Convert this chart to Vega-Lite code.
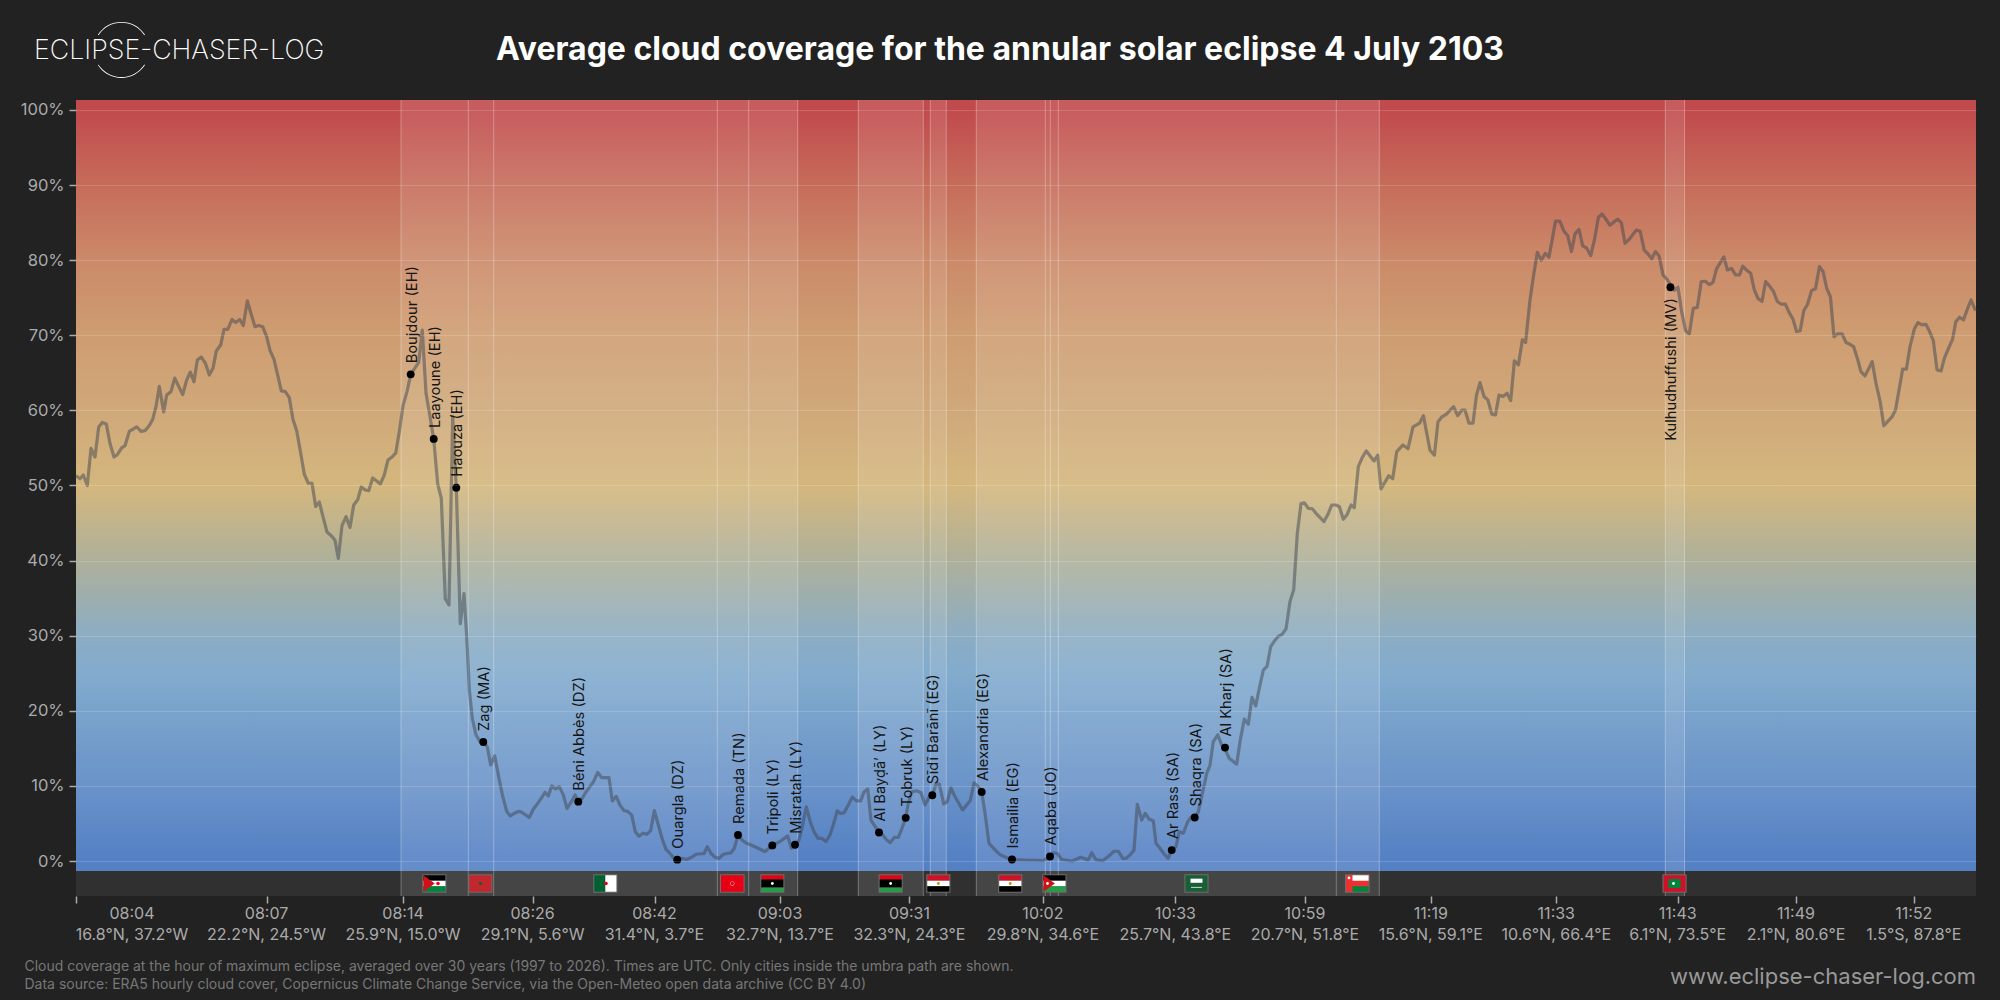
{
  "$schema": "https://vega.github.io/schema/vega-lite/v6.json",
  "description": "Average cloud coverage along the path of the annular solar eclipse of 4 July 2103",
  "background": "#222222",
  "autosize": {"type": "none"},
  "padding": {"left": 76, "top": 100, "right": 24, "bottom": 104},
  "width": 1900,
  "height": 796,
  "config": {"view": {"stroke": null}, "font": "Inter"},
  "datasets": {
    "cover": [
      {"pos":0,"cover":51.3},{"pos":4,"cover":50.9},{"pos":7.3,"cover":51.4},{"pos":11.3,"cover":50.0},{"pos":15,"cover":54.95},{"pos":19,"cover":53.8},{"pos":22.7,"cover":57.8},{"pos":26.3,"cover":58.4},{"pos":30.3,"cover":58.2},{"pos":34,"cover":55.6},{"pos":38,"cover":53.8},{"pos":41.3,"cover":54.1},{"pos":45.7,"cover":55.0},{"pos":49,"cover":55.3},{"pos":53.3,"cover":57.2},{"pos":57,"cover":57.5},{"pos":60.7,"cover":57.8},{"pos":65,"cover":57.2},{"pos":69,"cover":57.3},{"pos":73.3,"cover":58.0},{"pos":76.7,"cover":58.8},{"pos":80,"cover":60.5},{"pos":83.3,"cover":63.2},{"pos":87.7,"cover":59.8},{"pos":90.7,"cover":62.05},{"pos":95,"cover":62.5},{"pos":98.7,"cover":64.3},{"pos":102.7,"cover":63.2},{"pos":106.7,"cover":62.1},{"pos":110.7,"cover":64.05},{"pos":114.3,"cover":65.1},{"pos":118,"cover":63.8},{"pos":121.3,"cover":66.7},{"pos":125.3,"cover":67.1},{"pos":129.3,"cover":66.3},{"pos":133.3,"cover":64.7},{"pos":137,"cover":65.6},{"pos":140.3,"cover":67.9},{"pos":144.7,"cover":68.7},{"pos":148,"cover":70.8},{"pos":151.7,"cover":70.8},{"pos":156,"cover":72.1},{"pos":159.7,"cover":71.7},{"pos":163.7,"cover":72.1},{"pos":167.3,"cover":71.3},{"pos":171.3,"cover":74.6},{"pos":175,"cover":72.9},{"pos":179,"cover":71.15},{"pos":183,"cover":71.3},{"pos":186.7,"cover":71.15},{"pos":190.7,"cover":69.8},{"pos":194,"cover":68.0},{"pos":198,"cover":66.8},{"pos":201.7,"cover":64.7},{"pos":205.3,"cover":62.6},{"pos":209.3,"cover":62.5},{"pos":213.3,"cover":61.7},{"pos":217,"cover":58.8},{"pos":220.7,"cover":57.3},{"pos":224.7,"cover":54.3},{"pos":228.3,"cover":51.5},{"pos":232.3,"cover":50.3},{"pos":236,"cover":50.3},{"pos":239.7,"cover":47.2},{"pos":243.3,"cover":47.8},{"pos":247.3,"cover":45.7},{"pos":251,"cover":43.8},{"pos":255.3,"cover":43.3},{"pos":259,"cover":42.7},{"pos":262.3,"cover":40.3},{"pos":266,"cover":44.65},{"pos":270,"cover":45.85},{"pos":274,"cover":44.4},{"pos":277.7,"cover":47.4},{"pos":281.7,"cover":48.1},{"pos":285.3,"cover":49.8},{"pos":289.3,"cover":49.4},{"pos":292.7,"cover":49.3},{"pos":296.7,"cover":51.0},{"pos":300.7,"cover":50.6},{"pos":304.3,"cover":50.2},{"pos":308.3,"cover":51.4},{"pos":312,"cover":53.4},{"pos":316,"cover":53.8},{"pos":319.7,"cover":54.3},{"pos":323.3,"cover":57.2},{"pos":327,"cover":60.6},{"pos":331,"cover":62.5},{"pos":334.7,"cover":64.8},{"pos":338.7,"cover":65.6},{"pos":342.7,"cover":66.4},{"pos":346.3,"cover":70.7},{"pos":350,"cover":62.3},{"pos":354,"cover":59.2},{"pos":357.7,"cover":56.2},{"pos":361.7,"cover":50.2},{"pos":365.3,"cover":48.3},{"pos":369.3,"cover":34.9},{"pos":373,"cover":34.1},{"pos":376.7,"cover":59.2},{"pos":380.3,"cover":49.7},{"pos":384.3,"cover":31.6},{"pos":388,"cover":35.6},{"pos":390.7,"cover":29.9},{"pos":393.3,"cover":22.8},{"pos":396.3,"cover":19.0},{"pos":400,"cover":16.8},{"pos":404,"cover":15.9},{"pos":407.3,"cover":15.85},{"pos":411.3,"cover":15.2},{"pos":414.7,"cover":12.8},{"pos":418.7,"cover":14.0},{"pos":422.7,"cover":11.2},{"pos":426.7,"cover":8.6},{"pos":430.7,"cover":6.6},{"pos":434.3,"cover":6.0},{"pos":438.3,"cover":6.35},{"pos":442.3,"cover":6.6},{"pos":445.7,"cover":6.5},{"pos":450,"cover":6.1},{"pos":453.3,"cover":5.8},{"pos":457.3,"cover":6.9},{"pos":461.3,"cover":7.6},{"pos":465.3,"cover":8.35},{"pos":469,"cover":9.15},{"pos":472.3,"cover":8.65},{"pos":475.7,"cover":10.0},{"pos":479.7,"cover":9.6},{"pos":483.3,"cover":9.9},{"pos":487.3,"cover":8.8},{"pos":491,"cover":7.0},{"pos":495,"cover":7.8},{"pos":499,"cover":8.8},{"pos":502.3,"cover":7.9},{"pos":506.3,"cover":8.35},{"pos":510,"cover":9.2},{"pos":514,"cover":9.9},{"pos":517.7,"cover":10.6},{"pos":521.7,"cover":11.8},{"pos":525.7,"cover":11.1},{"pos":529.3,"cover":11.1},{"pos":533,"cover":11.1},{"pos":536.3,"cover":8.0},{"pos":540.3,"cover":8.6},{"pos":544,"cover":7.45},{"pos":548,"cover":6.7},{"pos":551.7,"cover":6.6},{"pos":555.7,"cover":6.1},{"pos":559.3,"cover":3.9},{"pos":563,"cover":3.3},{"pos":567,"cover":3.7},{"pos":570.7,"cover":3.55},{"pos":574.7,"cover":4.05},{"pos":578.3,"cover":6.7},{"pos":582.3,"cover":4.8},{"pos":586.3,"cover":2.9},{"pos":590,"cover":1.55},{"pos":594,"cover":1.0},{"pos":598,"cover":0.35},{"pos":601.3,"cover":0.2},{"pos":605.7,"cover":0.35},{"pos":610.7,"cover":0.2},{"pos":615.7,"cover":0.5},{"pos":620,"cover":0.9},{"pos":628,"cover":1.0},{"pos":631.3,"cover":1.9},{"pos":635,"cover":1.0},{"pos":639,"cover":0.5},{"pos":643,"cover":0.35},{"pos":647.3,"cover":0.9},{"pos":655,"cover":1.1},{"pos":658.3,"cover":1.7},{"pos":662,"cover":3.45},{"pos":666,"cover":2.8},{"pos":670.7,"cover":2.35},{"pos":679,"cover":1.9},{"pos":689,"cover":1.25},{"pos":696.3,"cover":2.1},{"pos":704,"cover":2.6},{"pos":711.7,"cover":3.35},{"pos":715.3,"cover":1.7},{"pos":719,"cover":2.1},{"pos":723,"cover":2.8},{"pos":726.3,"cover":4.6},{"pos":730.3,"cover":7.2},{"pos":734.3,"cover":5.2},{"pos":738,"cover":3.9},{"pos":742,"cover":3.0},{"pos":746,"cover":3.0},{"pos":750,"cover":2.6},{"pos":754,"cover":3.45},{"pos":757.3,"cover":4.8},{"pos":761.3,"cover":6.7},{"pos":764,"cover":6.35},{"pos":768,"cover":6.4},{"pos":772.3,"cover":7.45},{"pos":776.3,"cover":8.5},{"pos":780.7,"cover":8.0},{"pos":784.7,"cover":8.0},{"pos":788,"cover":9.2},{"pos":791.7,"cover":9.6},{"pos":795,"cover":5.45},{"pos":799,"cover":4.6},{"pos":803,"cover":3.8},{"pos":806.7,"cover":3.45},{"pos":810.7,"cover":2.8},{"pos":814.3,"cover":2.45},{"pos":818.3,"cover":3.15},{"pos":822.3,"cover":3.15},{"pos":826,"cover":4.35},{"pos":829.7,"cover":5.75},{"pos":832.3,"cover":7.7},{"pos":835.7,"cover":9.2},{"pos":840.7,"cover":9.35},{"pos":845,"cover":9.1},{"pos":849,"cover":7.45},{"pos":853,"cover":8.5},{"pos":856.3,"cover":8.75},{"pos":860,"cover":10.25},{"pos":863.3,"cover":10.25},{"pos":867.7,"cover":7.6},{"pos":871.3,"cover":7.9},{"pos":875,"cover":9.75},{"pos":879,"cover":8.55},{"pos":886.7,"cover":6.8},{"pos":894.3,"cover":8.05},{"pos":898,"cover":10.4},{"pos":902.3,"cover":9.9},{"pos":905.7,"cover":9.2},{"pos":909,"cover":6.35},{"pos":913,"cover":2.35},{"pos":920.7,"cover":1.25},{"pos":924.7,"cover":0.8},{"pos":932.3,"cover":0.35},{"pos":936,"cover":0.2},{"pos":944,"cover":0.15},{"pos":951.3,"cover":0.1},{"pos":959.7,"cover":0.1},{"pos":967.3,"cover":0.05},{"pos":974,"cover":0.6},{"pos":977.3,"cover":1.1},{"pos":981.3,"cover":1.0},{"pos":985.7,"cover":0.2},{"pos":996.3,"cover":0},{"pos":1004.7,"cover":0.5},{"pos":1012.3,"cover":0.15},{"pos":1015.7,"cover":1.1},{"pos":1020,"cover":0.15},{"pos":1026.7,"cover":0.05},{"pos":1032.3,"cover":0.6},{"pos":1038,"cover":1.3},{"pos":1042.3,"cover":1.3},{"pos":1046.7,"cover":0.35},{"pos":1050,"cover":0.35},{"pos":1054,"cover":0.8},{"pos":1058,"cover":1.45},{"pos":1061.3,"cover":7.55},{"pos":1065.7,"cover":5.45},{"pos":1069.3,"cover":6.35},{"pos":1073.3,"cover":5.55},{"pos":1077.3,"cover":5.35},{"pos":1080,"cover":2.35},{"pos":1084,"cover":1.7},{"pos":1088,"cover":0.95},{"pos":1092.3,"cover":0.35},{"pos":1095.7,"cover":1.45},{"pos":1100,"cover":1.9},{"pos":1103.3,"cover":3.9},{"pos":1107.3,"cover":3.7},{"pos":1111.3,"cover":5.1},{"pos":1114.7,"cover":5.8},{"pos":1118.7,"cover":5.8},{"pos":1122.3,"cover":6.55},{"pos":1126.7,"cover":9.2},{"pos":1130.7,"cover":11.65},{"pos":1134,"cover":12.75},{"pos":1137.3,"cover":15.9},{"pos":1141.7,"cover":16.8},{"pos":1145.7,"cover":15.45},{"pos":1149.3,"cover":14.8},{"pos":1153.3,"cover":13.65},{"pos":1160.7,"cover":12.9},{"pos":1164,"cover":15.9},{"pos":1168.3,"cover":18.9},{"pos":1172.3,"cover":18.2},{"pos":1176,"cover":21.8},{"pos":1179.7,"cover":20.65},{"pos":1183.3,"cover":23.0},{"pos":1187.3,"cover":25.4},{"pos":1191,"cover":25.9},{"pos":1194.7,"cover":28.55},{"pos":1199,"cover":29.4},{"pos":1202.3,"cover":29.9},{"pos":1206.3,"cover":30.2},{"pos":1210,"cover":30.9},{"pos":1214,"cover":34.55},{"pos":1217.7,"cover":36.1},{"pos":1221.3,"cover":43.6},{"pos":1225,"cover":47.6},{"pos":1228.3,"cover":47.7},{"pos":1232.3,"cover":46.95},{"pos":1236.3,"cover":46.9},{"pos":1240,"cover":46.3},{"pos":1248,"cover":45.2},{"pos":1251.7,"cover":46.1},{"pos":1255.7,"cover":47.4},{"pos":1259.7,"cover":47.4},{"pos":1263.3,"cover":47.2},{"pos":1267.3,"cover":45.5},{"pos":1271,"cover":46.1},{"pos":1275,"cover":47.4},{"pos":1278.3,"cover":47.05},{"pos":1282.3,"cover":52.5},{"pos":1286.3,"cover":53.75},{"pos":1290.3,"cover":54.6},{"pos":1298,"cover":53.25},{"pos":1301.7,"cover":54.05},{"pos":1305,"cover":49.55},{"pos":1312.7,"cover":51.3},{"pos":1316.7,"cover":50.9},{"pos":1320.7,"cover":54.5},{"pos":1327,"cover":55.4},{"pos":1332,"cover":54.9},{"pos":1337,"cover":57.8},{"pos":1343.6,"cover":58.3},{"pos":1347.4,"cover":59.3},{"pos":1354,"cover":54.7},{"pos":1358.4,"cover":54.05},{"pos":1362,"cover":58.5},{"pos":1366,"cover":59.15},{"pos":1370.4,"cover":59.5},{"pos":1377.6,"cover":60.5},{"pos":1381.6,"cover":59.3},{"pos":1386,"cover":60.05},{"pos":1389,"cover":60.05},{"pos":1393,"cover":58.3},{"pos":1397,"cover":58.3},{"pos":1400.5,"cover":62.05},{"pos":1404,"cover":63.7},{"pos":1408,"cover":61.85},{"pos":1411.8,"cover":61.4},{"pos":1415.8,"cover":59.5},{"pos":1419.5,"cover":59.4},{"pos":1423,"cover":62.05},{"pos":1427,"cover":61.85},{"pos":1431,"cover":62.3},{"pos":1434.7,"cover":61.3},{"pos":1438.4,"cover":66.6},{"pos":1442.4,"cover":66.05},{"pos":1446.4,"cover":69.4},{"pos":1449.6,"cover":69.05},{"pos":1454,"cover":74.7},{"pos":1457.6,"cover":78.0},{"pos":1461.3,"cover":81.05},{"pos":1465.3,"cover":80.0},{"pos":1469.3,"cover":80.9},{"pos":1473,"cover":80.4},{"pos":1479.5,"cover":85.2},{"pos":1483.8,"cover":85.2},{"pos":1487.8,"cover":83.9},{"pos":1491.8,"cover":83.25},{"pos":1495.5,"cover":81.15},{"pos":1499,"cover":83.5},{"pos":1503,"cover":84.1},{"pos":1506.7,"cover":81.9},{"pos":1510.7,"cover":81.6},{"pos":1514.7,"cover":80.6},{"pos":1518.4,"cover":82.7},{"pos":1522.4,"cover":85.7},{"pos":1526,"cover":86.15},{"pos":1530,"cover":85.45},{"pos":1534,"cover":84.65},{"pos":1538,"cover":85.1},{"pos":1541.6,"cover":85.45},{"pos":1545.3,"cover":85.0},{"pos":1549,"cover":82.25},{"pos":1553.3,"cover":82.8},{"pos":1560.2,"cover":84.0},{"pos":1564.2,"cover":83.85},{"pos":1568.2,"cover":81.35},{"pos":1572.2,"cover":80.8},{"pos":1575.8,"cover":80.2},{"pos":1579.5,"cover":81.15},{"pos":1583,"cover":80.6},{"pos":1587,"cover":78.05},{"pos":1591,"cover":77.45},{"pos":1598.4,"cover":76.0},{"pos":1602,"cover":76.4},{"pos":1605.6,"cover":73.15},{"pos":1609.6,"cover":70.6},{"pos":1613.3,"cover":70.2},{"pos":1617.3,"cover":73.6},{"pos":1621.3,"cover":73.7},{"pos":1625.3,"cover":77.15},{"pos":1629.3,"cover":77.2},{"pos":1633.3,"cover":76.75},{"pos":1637,"cover":77.05},{"pos":1640.5,"cover":78.85},{"pos":1647.8,"cover":80.45},{"pos":1651.5,"cover":78.7},{"pos":1655.5,"cover":78.9},{"pos":1659.5,"cover":78.05},{"pos":1663.5,"cover":78.05},{"pos":1666.7,"cover":79.2},{"pos":1670.4,"cover":78.7},{"pos":1674.7,"cover":78.25},{"pos":1678.4,"cover":76.0},{"pos":1682,"cover":74.9},{"pos":1686,"cover":74.5},{"pos":1689.6,"cover":77.15},{"pos":1693.6,"cover":76.55},{"pos":1697.6,"cover":75.8},{"pos":1701.3,"cover":74.5},{"pos":1705.3,"cover":74.15},{"pos":1709.3,"cover":74.15},{"pos":1713.3,"cover":73.0},{"pos":1717,"cover":72.15},{"pos":1720.5,"cover":70.5},{"pos":1724.2,"cover":70.6},{"pos":1727.8,"cover":73.3},{"pos":1731.5,"cover":74.1},{"pos":1735.5,"cover":75.95},{"pos":1739.5,"cover":76.2},{"pos":1743.5,"cover":79.15},{"pos":1747,"cover":78.5},{"pos":1750.7,"cover":76.25},{"pos":1754.4,"cover":75.15},{"pos":1758,"cover":69.8},{"pos":1762,"cover":70.2},{"pos":1766,"cover":70.2},{"pos":1770,"cover":69.05},{"pos":1774,"cover":68.8},{"pos":1777.6,"cover":68.5},{"pos":1781.3,"cover":66.95},{"pos":1785,"cover":65.15},{"pos":1789,"cover":64.6},{"pos":1792.5,"cover":65.5},{"pos":1796.2,"cover":66.5},{"pos":1800,"cover":63.6},{"pos":1804.2,"cover":61.15},{"pos":1807.8,"cover":57.95},{"pos":1811.5,"cover":58.5},{"pos":1815.8,"cover":59.1},{"pos":1819.5,"cover":60.05},{"pos":1823,"cover":62.7},{"pos":1826.7,"cover":65.5},{"pos":1830.4,"cover":65.5},{"pos":1834,"cover":68.5},{"pos":1838.4,"cover":70.85},{"pos":1842,"cover":71.7},{"pos":1846,"cover":71.4},{"pos":1850,"cover":71.45},{"pos":1853.6,"cover":70.5},{"pos":1857.3,"cover":69.3},{"pos":1861,"cover":65.4},{"pos":1865,"cover":65.25},{"pos":1868.5,"cover":67.0},{"pos":1872.5,"cover":68.25},{"pos":1876.5,"cover":69.45},{"pos":1879.8,"cover":71.8},{"pos":1883.5,"cover":72.4},{"pos":1887.5,"cover":72.05},{"pos":1891,"cover":73.35},{"pos":1895,"cover":74.7},{"pos":1899.5,"cover":73.3}
    ],
    "cities": [
      {"city":"Boujdour (EH)","pos":334.7,"cover":64.8},
      {"city":"Laayoune (EH)","pos":357.7,"cover":56.2},
      {"city":"Haouza (EH)","pos":380.3,"cover":49.7},
      {"city":"Zag (MA)","pos":407.3,"cover":15.85},
      {"city":"Béni Abbès (DZ)","pos":502.3,"cover":7.9},
      {"city":"Ouargla (DZ)","pos":601.3,"cover":0.18},
      {"city":"Remada (TN)","pos":662,"cover":3.46},
      {"city":"Tripoli (LY)","pos":696.3,"cover":2.08},
      {"city":"Misratah (LY)","pos":719,"cover":2.17},
      {"city":"Al Bayḍā’ (LY)","pos":803,"cover":3.8},
      {"city":"Tobruk (LY)","pos":829.7,"cover":5.75},
      {"city":"Sīdī Barānī (EG)","pos":856.3,"cover":8.75},
      {"city":"Alexandria (EG)","pos":905.7,"cover":9.2},
      {"city":"Ismailia (EG)","pos":936,"cover":0.2},
      {"city":"Aqaba (JO)","pos":974,"cover":0.6},
      {"city":"Ar Rass (SA)","pos":1095.7,"cover":1.45},
      {"city":"Shaqra (SA)","pos":1118.7,"cover":5.8},
      {"city":"Al Kharj (SA)","pos":1149,"cover":15.1}
    ],
    "segments": [
      {"a":325,"b":392.3},{"a":392.3,"b":417.7},{"a":417.7,"b":641.3},{"a":641.3,"b":672.7},{"a":672.7,"b":721.7},{"a":782.3,"b":847.3},{"a":854.3,"b":870.3},{"a":900.3,"b":969.3},{"a":969.3,"b":974.3},{"a":974.3,"b":982.3},{"a":982.3,"b":1260.3},{"a":1260.3,"b":1303.3},{"a":1589.3,"b":1608.5}
    ],
    "edges": [
      {"a":325},{"a":392.3},{"a":417.7},{"a":641.3},{"a":672.7},{"a":721.7},{"a":782.3},{"a":847.3},{"a":854.3},{"a":870.3},{"a":900.3},{"a":969.3},{"a":974.3},{"a":982.3},{"a":1260.3},{"a":1303.3},{"a":1589.3},{"a":1608.5}
    ],
    "ticks": [
      {"pos":56,"time":"08:04","coord":"16.8°N, 37.2°W"},
      {"pos":190.5,"time":"08:07","coord":"22.2°N, 24.5°W"},
      {"pos":327,"time":"08:14","coord":"25.9°N, 15.0°W"},
      {"pos":456.6,"time":"08:26","coord":"29.1°N, 5.6°W"},
      {"pos":578.5,"time":"08:42","coord":"31.4°N, 3.7°E"},
      {"pos":704,"time":"09:03","coord":"32.7°N, 13.7°E"},
      {"pos":833.4,"time":"09:31","coord":"32.3°N, 24.3°E"},
      {"pos":966.9,"time":"10:02","coord":"29.8°N, 34.6°E"},
      {"pos":1099.4,"time":"10:33","coord":"25.7°N, 43.8°E"},
      {"pos":1229,"time":"10:59","coord":"20.7°N, 51.8°E"},
      {"pos":1354.8,"time":"11:19","coord":"15.6°N, 59.1°E"},
      {"pos":1480.3,"time":"11:33","coord":"10.6°N, 66.4°E"},
      {"pos":1601.7,"time":"11:43","coord":"6.1°N, 73.5°E"},
      {"pos":1720,"time":"11:49","coord":"2.1°N, 80.6°E"},
      {"pos":1837.8,"time":"11:52","coord":"1.5°S, 87.8°E"}
    ],
    "flags": [
      {"flag":"EH","part":"frame","x0":346.3,"x1":370.4,"y0":-1.77,"y1":-4.22},
      {"flag":"EH","part":"black","x0":347.3,"x1":369.4,"y0":-1.9,"y1":-2.63},
      {"flag":"EH","part":"white","x0":347.3,"x1":369.4,"y0":-2.63,"y1":-3.36},
      {"flag":"EH","part":"green","x0":347.3,"x1":369.4,"y0":-3.36,"y1":-4.09},
      {"flag":"MA","part":"frame","x0":392.3,"x1":416.4,"y0":-1.77,"y1":-4.22},
      {"flag":"MA","part":"brick","x0":393.3,"x1":415.4,"y0":-1.9,"y1":-4.09},
      {"flag":"DZ","part":"frame","x0":517.3,"x1":541.4,"y0":-1.77,"y1":-4.22},
      {"flag":"DZ","part":"dark green","x0":518.3,"x1":529.35,"y0":-1.9,"y1":-4.09},
      {"flag":"DZ","part":"white","x0":529.35,"x1":540.4,"y0":-1.9,"y1":-4.09},
      {"flag":"TN","part":"frame","x0":644,"x1":668.6,"y0":-1.77,"y1":-4.22},
      {"flag":"TN","part":"red","x0":645,"x1":667.6,"y0":-1.9,"y1":-4.09},
      {"flag":"LY","part":"frame","x0":684.3,"x1":708.4,"y0":-1.77,"y1":-4.22},
      {"flag":"LY","part":"red","x0":685.3,"x1":707.4,"y0":-1.9,"y1":-2.45},
      {"flag":"LY","part":"black","x0":685.3,"x1":707.4,"y0":-2.45,"y1":-3.54},
      {"flag":"LY","part":"light green","x0":685.3,"x1":707.4,"y0":-3.54,"y1":-4.09},
      {"flag":"LY","part":"frame","x0":802.6,"x1":826.7,"y0":-1.77,"y1":-4.22},
      {"flag":"LY","part":"red","x0":803.6,"x1":825.7,"y0":-1.9,"y1":-2.45},
      {"flag":"LY","part":"black","x0":803.6,"x1":825.7,"y0":-2.45,"y1":-3.54},
      {"flag":"LY","part":"light green","x0":803.6,"x1":825.7,"y0":-3.54,"y1":-4.09},
      {"flag":"EG","part":"frame","x0":850.3,"x1":874.4,"y0":-1.77,"y1":-4.22},
      {"flag":"EG","part":"crimson","x0":851.3,"x1":873.4,"y0":-1.9,"y1":-2.63},
      {"flag":"EG","part":"white","x0":851.3,"x1":873.4,"y0":-2.63,"y1":-3.36},
      {"flag":"EG","part":"black","x0":851.3,"x1":873.4,"y0":-3.36,"y1":-4.09},
      {"flag":"EG","part":"frame","x0":922.2,"x1":946.3,"y0":-1.77,"y1":-4.22},
      {"flag":"EG","part":"crimson","x0":923.2,"x1":945.3,"y0":-1.9,"y1":-2.63},
      {"flag":"EG","part":"white","x0":923.2,"x1":945.3,"y0":-2.63,"y1":-3.36},
      {"flag":"EG","part":"black","x0":923.2,"x1":945.3,"y0":-3.36,"y1":-4.09},
      {"flag":"JO","part":"frame","x0":966.4,"x1":990.5,"y0":-1.77,"y1":-4.22},
      {"flag":"JO","part":"black","x0":967.4,"x1":989.5,"y0":-1.9,"y1":-2.63},
      {"flag":"JO","part":"white","x0":967.4,"x1":989.5,"y0":-2.63,"y1":-3.36},
      {"flag":"JO","part":"light green","x0":967.4,"x1":989.5,"y0":-3.36,"y1":-4.09},
      {"flag":"SA","part":"frame","x0":1108.4,"x1":1132.5,"y0":-1.77,"y1":-4.22},
      {"flag":"SA","part":"saudi","x0":1109.4,"x1":1131.5,"y0":-1.9,"y1":-4.09},
      {"flag":"SA","part":"white","x0":1114.5,"x1":1126.5,"y0":-2.35,"y1":-2.9},
      {"flag":"SA","part":"white","x0":1115,"x1":1126,"y0":-3.45,"y1":-3.55},
      {"flag":"OM","part":"frame","x0":1269,"x1":1293.6,"y0":-1.77,"y1":-4.22},
      {"flag":"OM","part":"tomato","x0":1270,"x1":1292.6,"y0":-1.9,"y1":-4.09},
      {"flag":"OM","part":"white","x0":1276.5,"x1":1292.6,"y0":-1.9,"y1":-2.63},
      {"flag":"OM","part":"green","x0":1276.5,"x1":1292.6,"y0":-3.36,"y1":-4.09},
      {"flag":"MV","part":"frame","x0":1586.5,"x1":1610.6,"y0":-1.77,"y1":-4.22},
      {"flag":"MV","part":"crimson","x0":1587.5,"x1":1609.6,"y0":-1.9,"y1":-4.09},
      {"flag":"MV","part":"green","x0":1592.5,"x1":1604.6,"y0":-2.4,"y1":-3.6}
    ],
    "hoists": [
      {"flag":"EH","x":353.05,"y":-2.995},
      {"flag":"JO","x":973.15,"y":-2.995}
    ],
    "emblems": [
      {"flag":"EH","part":"red","kind":"dot","x":362,"y":-3.0},
      {"flag":"MA","part":"dark green","kind":"speck","x":404.35,"y":-3.0},
      {"flag":"DZ","part":"red","kind":"dot","x":530,"y":-3.0},
      {"flag":"TN","part":"white","kind":"seal","x":656.3,"y":-3.0},
      {"flag":"TN","part":"red","kind":"dot","x":656.3,"y":-3.0},
      {"flag":"LY","part":"white","kind":"speck","x":696.35,"y":-3.0},
      {"flag":"LY","part":"white","kind":"speck","x":814.65,"y":-3.0},
      {"flag":"EG","part":"gold","kind":"speck","x":862.35,"y":-3.0},
      {"flag":"EG","part":"gold","kind":"speck","x":934.25,"y":-3.0},
      {"flag":"JO","part":"white","kind":"speck","x":971.5,"y":-3.0},
      {"flag":"OM","part":"white","kind":"speck","x":1273,"y":-2.25},
      {"flag":"MV","part":"white","kind":"speck","x":1597.5,"y":-3.0}
    ]
  },
  "layer": [
    {
      "description": "cloud colour ramp behind the plot",
      "data": {"values": [{"a": 0, "b": 1900, "top": 101.33, "bottom": -1.33}]},
      "mark": {
        "type": "rect",
        "fill": {
          "gradient": "linear",
          "x1": 0, "y1": 0, "x2": 0, "y2": 1,
          "stops": [
            {"offset": 0, "color": "#C14A4D"},
            {"offset": 0.013, "color": "#C14A4D"},
            {"offset": 0.11, "color": "#C66C5A"},
            {"offset": 0.208, "color": "#CB8A69"},
            {"offset": 0.305, "color": "#CE9D71"},
            {"offset": 0.402, "color": "#D0A87A"},
            {"offset": 0.5, "color": "#D4B77D"},
            {"offset": 0.597, "color": "#AEB09A"},
            {"offset": 0.694, "color": "#8CADC3"},
            {"offset": 0.743, "color": "#82ABCD"},
            {"offset": 0.792, "color": "#7AA3CC"},
            {"offset": 0.889, "color": "#6A93C9"},
            {"offset": 0.987, "color": "#5480C4"},
            {"offset": 1, "color": "#5480C4"}
          ]
        }
      },
      "encoding": {
        "x": {
          "field": "a", "type": "quantitative", "title": null,
          "scale": {"domain": [0, 1900], "nice": false, "zero": false},
          "axis": {
            "orient": "bottom",
            "values": [0, 190.5, 327, 456.6, 578.5, 704, 833.4, 966.9, 1099.4, 1229, 1354.8, 1480.3, 1601.7, 1720, 1837.8],
            "labels": false,
            "domain": false,
            "grid": false,
            "tickColor": "#aaaaaa",
            "tickSize": 7,
            "tickWidth": 1.5,
            "title": null
          }
        },
        "x2": {"field": "b"},
        "y": {
          "field": "top", "type": "quantitative", "title": null,
          "scale": {"domain": [-4.66, 101.33], "nice": false, "zero": false},
          "axis": {
            "values": [0, 10, 20, 30, 40, 50, 60, 70, 80, 90, 100],
            "labelExpr": "datum.value + '%'",
            "labelColor": "#aaaaaa",
            "labelFont": "Inter",
            "labelFontSize": 16.5,
            "labelPadding": 5,
            "domain": false,
            "tickColor": "#aaaaaa",
            "tickSize": 7,
            "tickWidth": 1.5,
            "grid": true,
            "gridColor": "#ffffff",
            "gridOpacity": 0.16,
            "gridWidth": 1,
            "zindex": 1,
            "title": null
          }
        },
        "y2": {"field": "bottom"}
      }
    },
    {
      "description": "dark strip that holds the flags",
      "data": {"values": [{"a": 0, "b": 1900, "top": -1.33, "bottom": -4.66}]},
      "mark": {"type": "rect", "fill": "#303030"},
      "encoding": {
        "x": {"field": "a", "type": "quantitative"},
        "x2": {"field": "b"},
        "y": {"field": "top", "type": "quantitative"},
        "y2": {"field": "bottom"}
      }
    },
    {
      "description": "lighter bands where the path crosses a country with cities",
      "data": {"name": "segments"},
      "mark": {"type": "rect", "fill": "#ffffff", "opacity": 0.1},
      "encoding": {
        "x": {"field": "a", "type": "quantitative"},
        "x2": {"field": "b"},
        "y": {"datum": 101.33, "type": "quantitative"},
        "y2": {"datum": -4.66}
      }
    },
    {
      "data": {"name": "edges"},
      "mark": {"type": "rule", "stroke": "#ffffff", "strokeOpacity": 0.3, "strokeWidth": 1},
      "encoding": {
        "x": {"field": "a", "type": "quantitative"},
        "y": {"datum": 101.33, "type": "quantitative"},
        "y2": {"datum": -4.66}
      }
    },
    {
      "data": {"name": "cover"},
      "mark": {"type": "line", "stroke": "#404650", "strokeWidth": 3.2, "opacity": 0.5, "strokeJoin": "round"},
      "encoding": {
        "x": {"field": "pos", "type": "quantitative"},
        "y": {"field": "cover", "type": "quantitative"}
      }
    },
    {
      "data": {"name": "cities"},
      "mark": {"type": "point", "filled": true, "fill": "#000000", "size": 62, "opacity": 1},
      "encoding": {
        "x": {"field": "pos", "type": "quantitative"},
        "y": {"field": "cover", "type": "quantitative"}
      }
    },
    {
      "data": {"name": "cities"},
      "mark": {"type": "text", "angle": 270, "align": "left", "baseline": "middle", "dx": 11, "dy": 2, "font": "Inter", "fontSize": 14.7, "fill": "#161616"},
      "encoding": {
        "x": {"field": "pos", "type": "quantitative"},
        "y": {"field": "cover", "type": "quantitative"},
        "text": {"field": "city"}
      }
    },
    {
      "data": {"values": [{"city": "Kulhudhuffushi (MV)", "pos": 1594.4, "cover": 76.4}]},
      "mark": {"type": "point", "filled": true, "fill": "#000000", "size": 62, "opacity": 1},
      "encoding": {
        "x": {"field": "pos", "type": "quantitative"},
        "y": {"field": "cover", "type": "quantitative"}
      }
    },
    {
      "data": {"values": [{"city": "Kulhudhuffushi (MV)", "pos": 1594.4, "cover": 76.4}]},
      "mark": {"type": "text", "angle": 270, "align": "right", "baseline": "middle", "dx": -11, "dy": 2, "font": "Inter", "fontSize": 14.7, "fill": "#161616"},
      "encoding": {
        "x": {"field": "pos", "type": "quantitative"},
        "y": {"field": "cover", "type": "quantitative"},
        "text": {"field": "city"}
      }
    },
    {
      "data": {"name": "flags"},
      "mark": {"type": "rect"},
      "encoding": {
        "x": {"field": "x0", "type": "quantitative"},
        "x2": {"field": "x1"},
        "y": {"field": "y0", "type": "quantitative"},
        "y2": {"field": "y1"},
        "color": {
          "field": "part",
          "type": "nominal",
          "legend": null,
          "scale": {
            "domain": ["frame", "black", "white", "green", "dark green", "light green", "red", "brick", "crimson", "tomato", "saudi", "gold"],
            "range": ["#6e6e6e", "#000000", "#ffffff", "#00843D", "#006233", "#239E46", "#E70013", "#C1272D", "#CE1126", "#EE3030", "#1A5E35", "#C09300"]
          }
        }
      }
    },
    {
      "data": {"name": "hoists"},
      "mark": {"type": "point", "filled": true, "fill": "#D0111B", "opacity": 1, "shape": "M-0.7,-1L0.7,0L-0.7,1Z", "size": 269},
      "encoding": {
        "x": {"field": "x", "type": "quantitative"},
        "y": {"field": "y", "type": "quantitative"}
      }
    },
    {
      "data": {"name": "emblems"},
      "mark": {"type": "point", "filled": true, "opacity": 1},
      "encoding": {
        "x": {"field": "x", "type": "quantitative"},
        "y": {"field": "y", "type": "quantitative"},
        "color": {"field": "part", "type": "nominal", "legend": null},
        "size": {
          "field": "kind",
          "type": "ordinal",
          "legend": null,
          "scale": {"domain": ["speck", "dot", "seal"], "range": [8, 18, 90]}
        }
      }
    },
    {
      "data": {"name": "ticks"},
      "mark": {"type": "text", "align": "center", "baseline": "middle", "font": "Inter", "fontSize": 16, "fill": "#aaaaaa"},
      "encoding": {
        "x": {"field": "pos", "type": "quantitative"},
        "y": {"datum": -7.06, "type": "quantitative"},
        "text": {"field": "time"}
      }
    },
    {
      "data": {"name": "ticks"},
      "mark": {"type": "text", "align": "center", "baseline": "middle", "font": "Inter", "fontSize": 16, "fill": "#aaaaaa"},
      "encoding": {
        "x": {"field": "pos", "type": "quantitative"},
        "y": {"datum": -9.85, "type": "quantitative"},
        "text": {"field": "coord"}
      }
    },
    {
      "data": {"values": [
        {"x": -51.5, "y": -14.11, "line": "Cloud coverage at the hour of maximum eclipse, averaged over 30 years (1997 to 2026). Times are UTC. Only cities inside the umbra path are shown."},
        {"x": -51.5, "y": -16.51, "line": "Data source: ERA5 hourly cloud cover, Copernicus Climate Change Service, via the Open-Meteo open data archive (CC BY 4.0)"}
      ]},
      "mark": {"type": "text", "align": "left", "baseline": "middle", "font": "Inter", "fontSize": 14, "fill": "#777777"},
      "encoding": {
        "x": {"field": "x", "type": "quantitative"},
        "y": {"field": "y", "type": "quantitative"},
        "text": {"field": "line"}
      }
    },
    {
      "data": {"values": [{"x": 1900, "y": -15.45, "line": "www.eclipse-chaser-log.com"}]},
      "mark": {"type": "text", "align": "right", "baseline": "middle", "font": "Inter", "fontSize": 22, "fill": "#999999"},
      "encoding": {
        "x": {"field": "x", "type": "quantitative"},
        "y": {"field": "y", "type": "quantitative"},
        "text": {"field": "line"}
      }
    },
    {
      "data": {"values": [{"x": 924, "y": 108, "line": "Average cloud coverage for the annular solar eclipse 4 July 2103"}]},
      "mark": {"type": "text", "align": "center", "baseline": "middle", "font": "Inter", "fontSize": 32, "fontWeight": 700, "fill": "#ffffff"},
      "encoding": {
        "x": {"field": "x", "type": "quantitative"},
        "y": {"field": "y", "type": "quantitative"},
        "text": {"field": "line"}
      }
    },
    {
      "data": {"values": [{"x": -42, "y": 107.8, "line": "ECLIPSE-CHASER-LOG"}]},
      "mark": {"type": "text", "align": "left", "baseline": "middle", "font": "Inter", "fontSize": 26.8, "fontWeight": 200, "fill": "#ffffff"},
      "encoding": {
        "x": {"field": "x", "type": "quantitative"},
        "y": {"field": "y", "type": "quantitative"},
        "text": {"field": "line"}
      }
    },
    {
      "data": {"values": [{"x": 45.4, "y": 108}]},
      "mark": {"type": "arc", "theta": -1, "theta2": 1, "radius": 28, "radius2": 27.2, "fill": "#ffffff"},
      "encoding": {
        "x": {"field": "x", "type": "quantitative"},
        "y": {"field": "y", "type": "quantitative"}
      }
    },
    {
      "data": {"values": [{"x": 45.4, "y": 108}]},
      "mark": {"type": "arc", "theta": 2.14, "theta2": 4.14, "radius": 28, "radius2": 27.2, "fill": "#ffffff"},
      "encoding": {
        "x": {"field": "x", "type": "quantitative"},
        "y": {"field": "y", "type": "quantitative"}
      }
    }
  ]
}
